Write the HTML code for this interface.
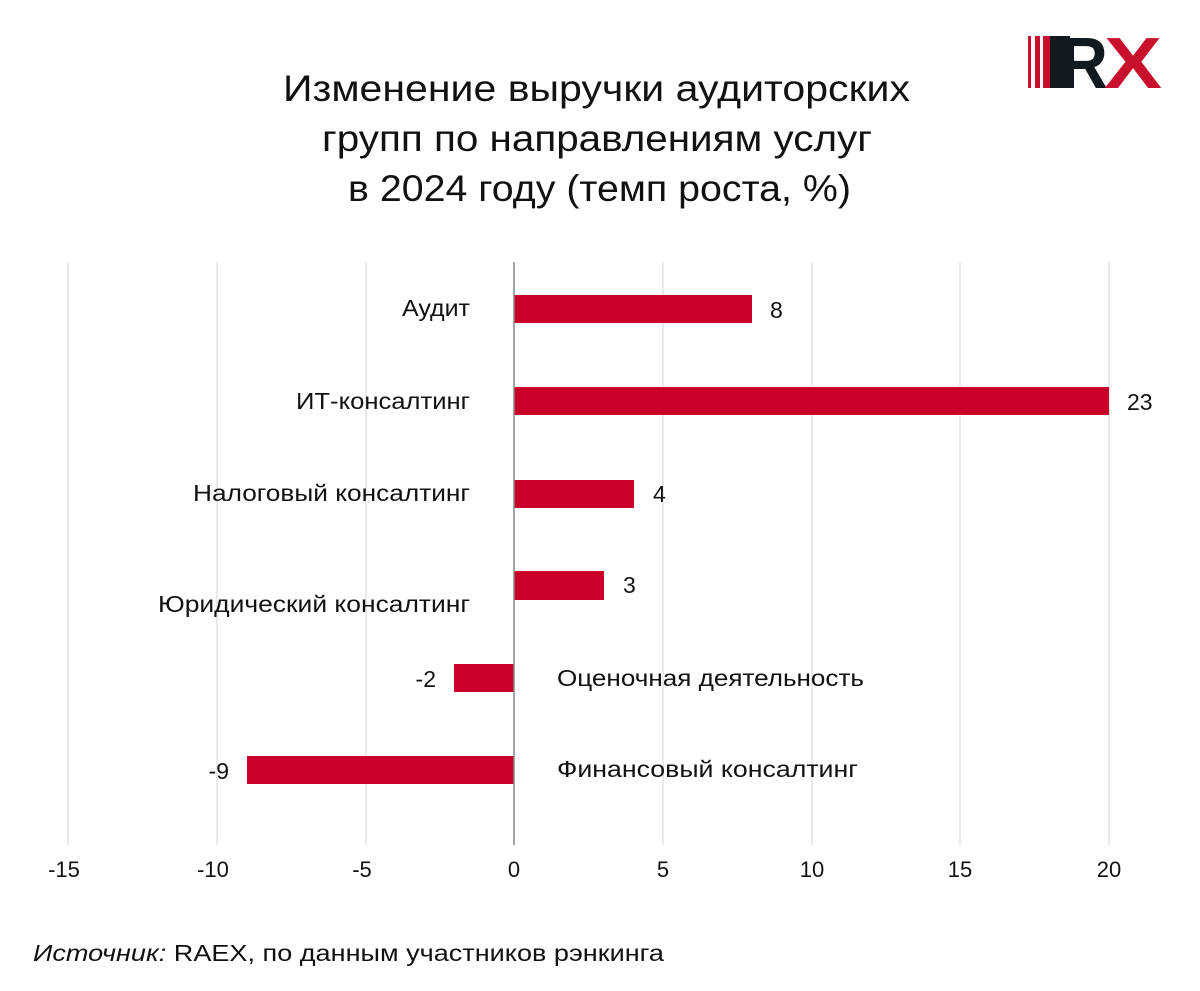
<!DOCTYPE html>
<html><head><meta charset="utf-8"><style>
html,body{margin:0;padding:0;background:#fff;}
svg{display:block;}
text{font-family:"Liberation Sans","DejaVu Sans",sans-serif;fill:#111;}
</style></head><body>
<svg width="1200" height="991" viewBox="0 0 1200 991" xmlns="http://www.w3.org/2000/svg">
<!-- logo -->
<rect x="1028" y="36" width="3" height="52" fill="#c8102e"/>
<rect x="1035" y="36" width="5" height="52" fill="#c8102e"/>
<rect x="1043" y="36" width="7" height="52" fill="#c8102e"/>
<rect x="1050" y="36" width="20" height="52" fill="#111a1f"/>
<text x="1060" y="88" style="font-size:72px;font-weight:bold;fill:#111a1f" textLength="48" lengthAdjust="spacingAndGlyphs">R</text>
<text x="1104" y="88" style="font-size:72px;font-weight:bold;fill:#c8102e" textLength="58" lengthAdjust="spacingAndGlyphs">X</text>
<!-- title -->
<g style="font-size:37px" lengthAdjust="spacingAndGlyphs">
<text x="283" y="101" textLength="627" lengthAdjust="spacingAndGlyphs">Изменение выручки аудиторских</text>
<text x="322" y="151" textLength="550" lengthAdjust="spacingAndGlyphs">групп по направлениям услуг</text>
<text x="348" y="201" textLength="503" lengthAdjust="spacingAndGlyphs">в 2024 году (темп роста, %)</text>
</g>
<!-- grid -->
<g stroke="#e3e3e3" stroke-width="1.5">
<line x1="68" y1="262" x2="68" y2="845"/>
<line x1="217" y1="262" x2="217" y2="845"/>
<line x1="366" y1="262" x2="366" y2="845"/>
<line x1="663" y1="262" x2="663" y2="845"/>
<line x1="812" y1="262" x2="812" y2="845"/>
<line x1="960" y1="262" x2="960" y2="845"/>
<line x1="1109" y1="262" x2="1109" y2="845"/>
</g>
<!-- bars -->
<g fill="#c8002a">
<rect x="514" y="295" width="238" height="28"/>
<rect x="514" y="387" width="595" height="28"/>
<rect x="514" y="480" width="120" height="28"/>
<rect x="514" y="571" width="90" height="29"/>
<rect x="454" y="664" width="60" height="28"/>
<rect x="247" y="756" width="267" height="28"/>
</g>
<line x1="514" y1="262" x2="514" y2="845" stroke="#888" stroke-width="1.5"/>
<!-- labels -->
<g style="font-size:23px">
<text x="402" y="316" textLength="68" lengthAdjust="spacingAndGlyphs">Аудит</text>
<text x="296" y="409" textLength="174" lengthAdjust="spacingAndGlyphs">ИТ-консалтинг</text>
<text x="193" y="501" textLength="277" lengthAdjust="spacingAndGlyphs">Налоговый консалтинг</text>
<text x="158" y="612" textLength="312" lengthAdjust="spacingAndGlyphs">Юридический консалтинг</text>
<text x="557" y="686" textLength="307" lengthAdjust="spacingAndGlyphs">Оценочная деятельность</text>
<text x="557" y="777" textLength="301" lengthAdjust="spacingAndGlyphs">Финансовый консалтинг</text>
<text x="770" y="318">8</text>
<text x="1127" y="410">23</text>
<text x="653" y="502">4</text>
<text x="623" y="593">3</text>
<text x="436" y="687" text-anchor="end">-2</text>
<text x="229" y="779" text-anchor="end">-9</text>
</g>
<g style="font-size:22px" text-anchor="middle">
<text x="64" y="877">-15</text>
<text x="213" y="877">-10</text>
<text x="362" y="877">-5</text>
<text x="514" y="877">0</text>
<text x="663" y="877">5</text>
<text x="812" y="877">10</text>
<text x="960" y="877">15</text>
<text x="1109" y="877">20</text>
</g>
<text x="33" y="961" style="font-size:23px" textLength="631" lengthAdjust="spacingAndGlyphs"><tspan font-style="italic">Источник:</tspan> RAEX, по данным участников рэнкинга</text>
</svg>
</body></html>
